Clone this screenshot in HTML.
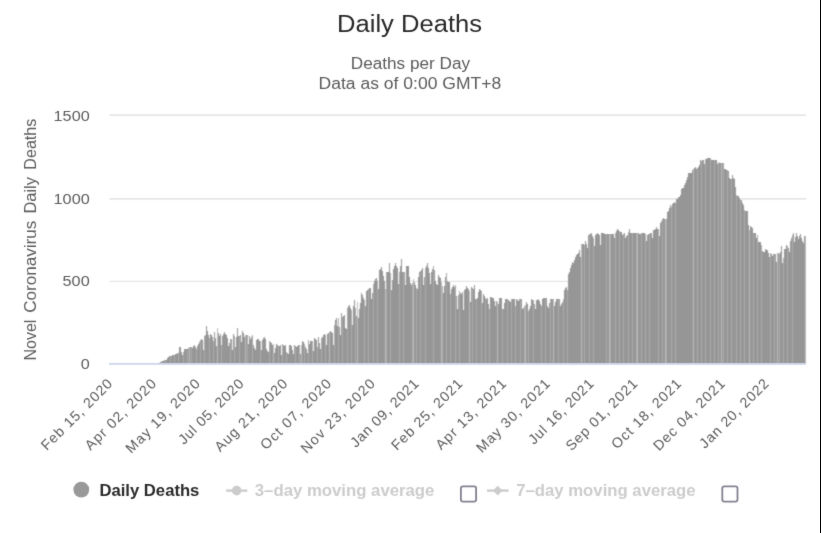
<!DOCTYPE html>
<html><head><meta charset="utf-8"><title>Daily Deaths</title>
<style>
html,body{margin:0;padding:0;background:#fff;}
body{width:821px;height:533px;overflow:hidden;position:relative;font-family:"Liberation Sans",sans-serif;}
svg{position:absolute;left:0;top:0;display:block;}
text{font-family:"Liberation Sans",sans-serif;}
</style></head><body>
<svg width="821" height="533" viewBox="0 0 821 533">
<rect x="0" y="0" width="821" height="533" fill="#ffffff"/>
<rect x="820" y="0" width="1" height="533" fill="#000"/>
<filter id="soft" x="0" y="0" width="819" height="533" filterUnits="userSpaceOnUse" color-interpolation-filters="sRGB"><feConvolveMatrix order="3" kernelMatrix="0.0300 0.0900 0.0300 0.1400 0.4200 0.1400 0.0300 0.0900 0.0300" divisor="1" edgeMode="none"/></filter>
<filter id="mild" x="0" y="0" width="819" height="533" filterUnits="userSpaceOnUse" color-interpolation-filters="sRGB"><feConvolveMatrix order="3" kernelMatrix="0.0100 0.0800 0.0100 0.0800 0.6400 0.0800 0.0100 0.0800 0.0100" divisor="1" edgeMode="none"/></filter>
<g filter="url(#mild)">
<g stroke="#e6e6e6" stroke-width="1.6">
<line x1="109.4" x2="806" y1="115.1" y2="115.1"/>
<line x1="109.4" x2="806" y1="198.9" y2="198.9"/>
<line x1="109.4" x2="806" y1="281.4" y2="281.4" stroke-width="1.3"/>
</g>
</g>
<g shape-rendering="crispEdges" filter="url(#soft)">
<rect x="159" y="362.5" width="1" height="1.1" fill="#969696"/>
<rect x="160" y="361.8" width="1" height="1.8" fill="#969696"/>
<rect x="161" y="361.4" width="1" height="2.2" fill="#bcbcbc"/>
<rect x="162" y="361.1" width="1" height="2.5" fill="#969696"/>
<rect x="163" y="361.0" width="1" height="2.6" fill="#969696"/>
<rect x="164" y="360.2" width="1" height="3.4" fill="#969696"/>
<rect x="165" y="359.8" width="1" height="3.9" fill="#acacac"/>
<rect x="166" y="359.5" width="1" height="4.1" fill="#969696"/>
<rect x="167" y="358.2" width="1" height="5.4" fill="#969696"/>
<rect x="168" y="357.4" width="1" height="6.2" fill="#969696"/>
<rect x="169" y="356.4" width="1" height="7.2" fill="#969696"/>
<rect x="170" y="356.1" width="1" height="7.5" fill="#acacac"/>
<rect x="171" y="355.6" width="1" height="8.0" fill="#969696"/>
<rect x="172" y="355.2" width="1" height="8.4" fill="#969696"/>
<rect x="173" y="355.0" width="1" height="8.6" fill="#969696"/>
<rect x="174" y="354.5" width="1" height="9.1" fill="#acacac"/>
<rect x="175" y="354.1" width="1" height="9.5" fill="#969696"/>
<rect x="176" y="353.8" width="1" height="9.8" fill="#969696"/>
<rect x="177" y="353.3" width="1" height="10.3" fill="#969696"/>
<rect x="178" y="353.0" width="1" height="10.6" fill="#acacac"/>
<rect x="179" y="347.2" width="1" height="16.4" fill="#969696"/>
<rect x="180" y="347.2" width="1" height="16.4" fill="#969696"/>
<rect x="181" y="351.6" width="1" height="12.0" fill="#969696"/>
<rect x="182" y="355.1" width="1" height="8.5" fill="#969696"/>
<rect x="183" y="351.8" width="1" height="11.8" fill="#acacac"/>
<rect x="184" y="348.5" width="1" height="15.1" fill="#969696"/>
<rect x="185" y="348.7" width="1" height="14.9" fill="#969696"/>
<rect x="186" y="348.9" width="1" height="14.7" fill="#969696"/>
<rect x="187" y="349.0" width="1" height="14.6" fill="#acacac"/>
<rect x="188" y="347.9" width="1" height="15.7" fill="#969696"/>
<rect x="189" y="347.2" width="1" height="16.4" fill="#bcbcbc"/>
<rect x="190" y="347.3" width="1" height="16.3" fill="#969696"/>
<rect x="191" y="347.4" width="1" height="16.2" fill="#acacac"/>
<rect x="192" y="347.5" width="1" height="16.1" fill="#969696"/>
<rect x="193" y="345.9" width="1" height="17.7" fill="#969696"/>
<rect x="194" y="344.6" width="1" height="19.0" fill="#969696"/>
<rect x="195" y="346.5" width="1" height="17.1" fill="#969696"/>
<rect x="196" y="349.2" width="1" height="14.4" fill="#acacac"/>
<rect x="197" y="345.9" width="1" height="17.7" fill="#969696"/>
<rect x="198" y="344.0" width="1" height="19.6" fill="#969696"/>
<rect x="199" y="341.7" width="1" height="21.9" fill="#969696"/>
<rect x="200" y="340.2" width="1" height="23.4" fill="#acacac"/>
<rect x="201" y="339.1" width="1" height="24.5" fill="#969696"/>
<rect x="202" y="340.0" width="1" height="23.6" fill="#969696"/>
<rect x="203" y="349.9" width="1" height="13.7" fill="#969696"/>
<rect x="204" y="336.0" width="1" height="27.6" fill="#acacac"/>
<rect x="205" y="335.1" width="1" height="28.5" fill="#969696"/>
<rect x="206" y="326.2" width="1" height="37.4" fill="#969696"/>
<rect x="207" y="331.0" width="1" height="32.6" fill="#969696"/>
<rect x="208" y="335.0" width="1" height="28.6" fill="#969696"/>
<rect x="209" y="338.0" width="1" height="25.6" fill="#acacac"/>
<rect x="210" y="334.1" width="1" height="29.5" fill="#969696"/>
<rect x="211" y="335.3" width="1" height="28.3" fill="#969696"/>
<rect x="212" y="337.0" width="1" height="26.6" fill="#969696"/>
<rect x="213" y="341.0" width="1" height="22.6" fill="#acacac"/>
<rect x="214" y="332.1" width="1" height="31.5" fill="#969696"/>
<rect x="215" y="338.2" width="1" height="25.4" fill="#969696"/>
<rect x="216" y="346.0" width="1" height="17.6" fill="#969696"/>
<rect x="217" y="328.2" width="1" height="35.4" fill="#bcbcbc"/>
<rect x="218" y="333.0" width="1" height="30.6" fill="#969696"/>
<rect x="219" y="336.0" width="1" height="27.6" fill="#969696"/>
<rect x="220" y="334.1" width="1" height="29.5" fill="#969696"/>
<rect x="221" y="345.3" width="1" height="18.3" fill="#acacac"/>
<rect x="222" y="336.0" width="1" height="27.6" fill="#969696"/>
<rect x="223" y="334.1" width="1" height="29.6" fill="#969696"/>
<rect x="224" y="332.1" width="1" height="31.5" fill="#969696"/>
<rect x="225" y="334.0" width="1" height="29.6" fill="#969696"/>
<rect x="226" y="334.7" width="1" height="28.9" fill="#969696"/>
<rect x="227" y="338.3" width="1" height="25.3" fill="#969696"/>
<rect x="228" y="346.0" width="1" height="17.6" fill="#969696"/>
<rect x="229" y="342.6" width="1" height="21.0" fill="#969696"/>
<rect x="230" y="339.3" width="1" height="24.3" fill="#acacac"/>
<rect x="231" y="339.0" width="1" height="24.6" fill="#969696"/>
<rect x="232" y="349.9" width="1" height="13.7" fill="#969696"/>
<rect x="233" y="334.1" width="1" height="29.5" fill="#969696"/>
<rect x="234" y="336.0" width="1" height="27.6" fill="#acacac"/>
<rect x="235" y="346.6" width="1" height="17.0" fill="#969696"/>
<rect x="236" y="337.0" width="1" height="26.6" fill="#969696"/>
<rect x="237" y="328.2" width="1" height="35.4" fill="#969696"/>
<rect x="238" y="336.0" width="1" height="27.6" fill="#969696"/>
<rect x="239" y="335.6" width="1" height="27.9" fill="#acacac"/>
<rect x="240" y="335.4" width="1" height="28.2" fill="#969696"/>
<rect x="241" y="342.0" width="1" height="21.6" fill="#969696"/>
<rect x="242" y="331.2" width="1" height="32.4" fill="#969696"/>
<rect x="243" y="333.4" width="1" height="30.2" fill="#969696"/>
<rect x="244" y="337.4" width="1" height="26.2" fill="#969696"/>
<rect x="245" y="335.1" width="1" height="28.5" fill="#bcbcbc"/>
<rect x="246" y="334.7" width="1" height="28.9" fill="#969696"/>
<rect x="247" y="334.6" width="1" height="29.0" fill="#acacac"/>
<rect x="248" y="343.5" width="1" height="20.1" fill="#969696"/>
<rect x="249" y="335.7" width="1" height="27.9" fill="#969696"/>
<rect x="250" y="339.3" width="1" height="24.3" fill="#969696"/>
<rect x="251" y="337.2" width="1" height="26.4" fill="#969696"/>
<rect x="252" y="334.6" width="1" height="29.0" fill="#acacac"/>
<rect x="253" y="344.6" width="1" height="19.0" fill="#969696"/>
<rect x="254" y="348.2" width="1" height="15.4" fill="#969696"/>
<rect x="255" y="349.9" width="1" height="13.7" fill="#969696"/>
<rect x="256" y="339.9" width="1" height="23.7" fill="#969696"/>
<rect x="257" y="338.6" width="1" height="25.0" fill="#969696"/>
<rect x="258" y="339.4" width="1" height="24.2" fill="#969696"/>
<rect x="259" y="340.6" width="1" height="23.0" fill="#969696"/>
<rect x="260" y="341.4" width="1" height="22.2" fill="#acacac"/>
<rect x="261" y="350.4" width="1" height="13.2" fill="#969696"/>
<rect x="262" y="339.9" width="1" height="23.7" fill="#969696"/>
<rect x="263" y="338.3" width="1" height="25.3" fill="#969696"/>
<rect x="264" y="337.2" width="1" height="26.4" fill="#969696"/>
<rect x="265" y="338.8" width="1" height="24.8" fill="#969696"/>
<rect x="266" y="348.8" width="1" height="14.8" fill="#969696"/>
<rect x="267" y="350.5" width="1" height="13.1" fill="#969696"/>
<rect x="268" y="352.0" width="1" height="11.6" fill="#969696"/>
<rect x="269" y="340.9" width="1" height="22.7" fill="#acacac"/>
<rect x="270" y="341.8" width="1" height="21.8" fill="#969696"/>
<rect x="271" y="342.5" width="1" height="21.1" fill="#969696"/>
<rect x="272" y="345.1" width="1" height="18.5" fill="#969696"/>
<rect x="273" y="343.5" width="1" height="20.1" fill="#bcbcbc"/>
<rect x="274" y="352.5" width="1" height="11.1" fill="#969696"/>
<rect x="275" y="348.0" width="1" height="15.6" fill="#969696"/>
<rect x="276" y="343.5" width="1" height="20.1" fill="#969696"/>
<rect x="277" y="345.0" width="1" height="18.6" fill="#969696"/>
<rect x="278" y="346.2" width="1" height="17.4" fill="#acacac"/>
<rect x="279" y="345.5" width="1" height="18.1" fill="#969696"/>
<rect x="280" y="345.1" width="1" height="18.5" fill="#969696"/>
<rect x="281" y="355.1" width="1" height="8.5" fill="#969696"/>
<rect x="282" y="343.5" width="1" height="20.1" fill="#acacac"/>
<rect x="283" y="344.9" width="1" height="18.8" fill="#969696"/>
<rect x="284" y="346.2" width="1" height="17.4" fill="#969696"/>
<rect x="285" y="344.6" width="1" height="19.0" fill="#969696"/>
<rect x="286" y="352.0" width="1" height="11.6" fill="#acacac"/>
<rect x="287" y="353.3" width="1" height="10.3" fill="#969696"/>
<rect x="288" y="354.1" width="1" height="9.5" fill="#969696"/>
<rect x="289" y="344.9" width="1" height="18.7" fill="#969696"/>
<rect x="290" y="345.2" width="1" height="18.4" fill="#969696"/>
<rect x="291" y="345.6" width="1" height="18.0" fill="#969696"/>
<rect x="292" y="349.9" width="1" height="13.7" fill="#969696"/>
<rect x="293" y="354.1" width="1" height="9.5" fill="#969696"/>
<rect x="294" y="344.9" width="1" height="18.7" fill="#969696"/>
<rect x="295" y="345.8" width="1" height="17.8" fill="#acacac"/>
<rect x="296" y="346.7" width="1" height="16.9" fill="#969696"/>
<rect x="297" y="346.0" width="1" height="17.6" fill="#969696"/>
<rect x="298" y="345.4" width="1" height="18.2" fill="#969696"/>
<rect x="299" y="344.9" width="1" height="18.7" fill="#acacac"/>
<rect x="300" y="354.1" width="1" height="9.5" fill="#969696"/>
<rect x="301" y="345.1" width="1" height="18.5" fill="#bcbcbc"/>
<rect x="302" y="340.9" width="1" height="22.7" fill="#969696"/>
<rect x="303" y="342.0" width="1" height="21.6" fill="#969696"/>
<rect x="304" y="344.1" width="1" height="19.5" fill="#acacac"/>
<rect x="305" y="346.7" width="1" height="16.9" fill="#969696"/>
<rect x="306" y="348.8" width="1" height="14.8" fill="#969696"/>
<rect x="307" y="352.5" width="1" height="11.1" fill="#969696"/>
<rect x="308" y="339.9" width="1" height="23.7" fill="#acacac"/>
<rect x="309" y="343.5" width="1" height="20.1" fill="#969696"/>
<rect x="310" y="340.9" width="1" height="22.7" fill="#969696"/>
<rect x="311" y="341.1" width="1" height="22.5" fill="#969696"/>
<rect x="312" y="341.4" width="1" height="22.2" fill="#acacac"/>
<rect x="313" y="351.4" width="1" height="12.2" fill="#969696"/>
<rect x="314" y="338.3" width="1" height="25.3" fill="#969696"/>
<rect x="315" y="339.1" width="1" height="24.5" fill="#969696"/>
<rect x="316" y="339.9" width="1" height="23.7" fill="#969696"/>
<rect x="317" y="347.2" width="1" height="16.4" fill="#acacac"/>
<rect x="318" y="337.2" width="1" height="26.4" fill="#969696"/>
<rect x="319" y="342.6" width="1" height="21.0" fill="#969696"/>
<rect x="320" y="348.8" width="1" height="14.8" fill="#969696"/>
<rect x="321" y="338.3" width="1" height="25.3" fill="#acacac"/>
<rect x="322" y="336.6" width="1" height="27.0" fill="#969696"/>
<rect x="323" y="335.1" width="1" height="28.5" fill="#969696"/>
<rect x="324" y="333.9" width="1" height="29.7" fill="#969696"/>
<rect x="325" y="335.0" width="1" height="28.6" fill="#acacac"/>
<rect x="326" y="344.7" width="1" height="18.9" fill="#969696"/>
<rect x="327" y="334.4" width="1" height="29.2" fill="#969696"/>
<rect x="328" y="333.4" width="1" height="30.2" fill="#969696"/>
<rect x="329" y="332.1" width="1" height="31.5" fill="#bcbcbc"/>
<rect x="330" y="331.1" width="1" height="32.5" fill="#969696"/>
<rect x="331" y="332.4" width="1" height="31.2" fill="#969696"/>
<rect x="332" y="333.3" width="1" height="30.3" fill="#969696"/>
<rect x="333" y="344.7" width="1" height="18.9" fill="#969696"/>
<rect x="334" y="324.6" width="1" height="39.0" fill="#acacac"/>
<rect x="335" y="320.0" width="1" height="43.6" fill="#969696"/>
<rect x="336" y="317.9" width="1" height="45.7" fill="#969696"/>
<rect x="337" y="326.1" width="1" height="37.5" fill="#969696"/>
<rect x="338" y="317.9" width="1" height="45.7" fill="#acacac"/>
<rect x="339" y="327.1" width="1" height="36.5" fill="#969696"/>
<rect x="340" y="334.9" width="1" height="28.7" fill="#969696"/>
<rect x="341" y="312.5" width="1" height="51.1" fill="#969696"/>
<rect x="342" y="317.3" width="1" height="46.3" fill="#acacac"/>
<rect x="343" y="316.3" width="1" height="47.3" fill="#969696"/>
<rect x="344" y="315.3" width="1" height="48.3" fill="#969696"/>
<rect x="345" y="327.7" width="1" height="35.9" fill="#969696"/>
<rect x="346" y="329.2" width="1" height="34.4" fill="#969696"/>
<rect x="347" y="307.5" width="1" height="56.1" fill="#acacac"/>
<rect x="348" y="306.2" width="1" height="57.4" fill="#969696"/>
<rect x="349" y="304.7" width="1" height="58.9" fill="#969696"/>
<rect x="350" y="308.1" width="1" height="55.5" fill="#969696"/>
<rect x="351" y="309.6" width="1" height="54.0" fill="#acacac"/>
<rect x="352" y="324.6" width="1" height="39.0" fill="#969696"/>
<rect x="353" y="306.0" width="1" height="57.6" fill="#969696"/>
<rect x="354" y="300.3" width="1" height="63.3" fill="#969696"/>
<rect x="355" y="308.3" width="1" height="55.3" fill="#acacac"/>
<rect x="356" y="316.3" width="1" height="47.3" fill="#969696"/>
<rect x="357" y="302.2" width="1" height="61.4" fill="#bcbcbc"/>
<rect x="358" y="318.4" width="1" height="45.2" fill="#969696"/>
<rect x="359" y="309.2" width="1" height="54.4" fill="#969696"/>
<rect x="360" y="303.4" width="1" height="60.2" fill="#969696"/>
<rect x="361" y="292.6" width="1" height="71.0" fill="#969696"/>
<rect x="362" y="294.8" width="1" height="68.8" fill="#969696"/>
<rect x="363" y="298.1" width="1" height="65.5" fill="#969696"/>
<rect x="364" y="300.3" width="1" height="63.3" fill="#acacac"/>
<rect x="365" y="306.0" width="1" height="57.6" fill="#969696"/>
<rect x="366" y="291.3" width="1" height="72.3" fill="#969696"/>
<rect x="367" y="290.3" width="1" height="73.3" fill="#969696"/>
<rect x="368" y="288.7" width="1" height="74.9" fill="#acacac"/>
<rect x="369" y="288.3" width="1" height="75.3" fill="#969696"/>
<rect x="370" y="287.7" width="1" height="75.9" fill="#969696"/>
<rect x="371" y="298.5" width="1" height="65.1" fill="#969696"/>
<rect x="372" y="292.5" width="1" height="71.1" fill="#969696"/>
<rect x="373" y="283.5" width="1" height="80.1" fill="#acacac"/>
<rect x="374" y="281.2" width="1" height="82.4" fill="#969696"/>
<rect x="375" y="279.1" width="1" height="84.5" fill="#969696"/>
<rect x="376" y="278.1" width="1" height="85.5" fill="#969696"/>
<rect x="377" y="281.0" width="1" height="82.6" fill="#acacac"/>
<rect x="378" y="289.2" width="1" height="74.4" fill="#969696"/>
<rect x="379" y="270.1" width="1" height="93.5" fill="#969696"/>
<rect x="380" y="268.7" width="1" height="94.9" fill="#969696"/>
<rect x="381" y="267.3" width="1" height="96.3" fill="#969696"/>
<rect x="382" y="270.6" width="1" height="93.0" fill="#969696"/>
<rect x="383" y="275.8" width="1" height="87.8" fill="#969696"/>
<rect x="384" y="281.0" width="1" height="82.6" fill="#969696"/>
<rect x="385" y="288.7" width="1" height="74.9" fill="#bcbcbc"/>
<rect x="386" y="271.5" width="1" height="92.1" fill="#acacac"/>
<rect x="387" y="271.5" width="1" height="92.1" fill="#969696"/>
<rect x="388" y="271.5" width="1" height="92.1" fill="#969696"/>
<rect x="389" y="263.4" width="1" height="100.2" fill="#969696"/>
<rect x="390" y="273.2" width="1" height="90.4" fill="#acacac"/>
<rect x="391" y="290.2" width="1" height="73.4" fill="#969696"/>
<rect x="392" y="279.6" width="1" height="83.9" fill="#969696"/>
<rect x="393" y="269.1" width="1" height="94.5" fill="#969696"/>
<rect x="394" y="266.3" width="1" height="97.3" fill="#969696"/>
<rect x="395" y="263.4" width="1" height="100.2" fill="#969696"/>
<rect x="396" y="265.6" width="1" height="98.0" fill="#969696"/>
<rect x="397" y="268.1" width="1" height="95.5" fill="#969696"/>
<rect x="398" y="283.5" width="1" height="80.1" fill="#969696"/>
<rect x="399" y="271.7" width="1" height="91.9" fill="#acacac"/>
<rect x="400" y="265.5" width="1" height="98.1" fill="#969696"/>
<rect x="401" y="259.3" width="1" height="104.3" fill="#969696"/>
<rect x="402" y="271.5" width="1" height="92.1" fill="#969696"/>
<rect x="403" y="271.5" width="1" height="92.1" fill="#acacac"/>
<rect x="404" y="271.5" width="1" height="92.1" fill="#969696"/>
<rect x="405" y="285.1" width="1" height="78.5" fill="#969696"/>
<rect x="406" y="266.3" width="1" height="97.3" fill="#969696"/>
<rect x="407" y="266.3" width="1" height="97.3" fill="#969696"/>
<rect x="408" y="266.3" width="1" height="97.3" fill="#969696"/>
<rect x="409" y="277.0" width="1" height="86.6" fill="#969696"/>
<rect x="410" y="282.5" width="1" height="81.1" fill="#969696"/>
<rect x="411" y="285.1" width="1" height="78.5" fill="#969696"/>
<rect x="412" y="282.8" width="1" height="80.8" fill="#acacac"/>
<rect x="413" y="279.4" width="1" height="84.2" fill="#bcbcbc"/>
<rect x="414" y="281.5" width="1" height="82.1" fill="#969696"/>
<rect x="415" y="284.8" width="1" height="78.8" fill="#969696"/>
<rect x="416" y="287.7" width="1" height="75.9" fill="#acacac"/>
<rect x="417" y="289.2" width="1" height="74.4" fill="#969696"/>
<rect x="418" y="277.0" width="1" height="86.6" fill="#969696"/>
<rect x="419" y="271.5" width="1" height="92.1" fill="#969696"/>
<rect x="420" y="271.1" width="1" height="92.5" fill="#acacac"/>
<rect x="421" y="270.4" width="1" height="93.2" fill="#969696"/>
<rect x="422" y="267.5" width="1" height="96.1" fill="#969696"/>
<rect x="423" y="285.1" width="1" height="78.5" fill="#969696"/>
<rect x="424" y="276.6" width="1" height="87.0" fill="#969696"/>
<rect x="425" y="268.1" width="1" height="95.5" fill="#acacac"/>
<rect x="426" y="266.3" width="1" height="97.3" fill="#969696"/>
<rect x="427" y="263.4" width="1" height="100.2" fill="#969696"/>
<rect x="428" y="267.6" width="1" height="96.0" fill="#969696"/>
<rect x="429" y="273.2" width="1" height="90.4" fill="#969696"/>
<rect x="430" y="283.5" width="1" height="80.1" fill="#969696"/>
<rect x="431" y="271.5" width="1" height="92.1" fill="#969696"/>
<rect x="432" y="268.9" width="1" height="94.7" fill="#969696"/>
<rect x="433" y="266.3" width="1" height="97.3" fill="#acacac"/>
<rect x="434" y="270.4" width="1" height="93.2" fill="#969696"/>
<rect x="435" y="280.6" width="1" height="83.0" fill="#969696"/>
<rect x="436" y="283.5" width="1" height="80.1" fill="#969696"/>
<rect x="437" y="285.2" width="1" height="78.4" fill="#969696"/>
<rect x="438" y="275.4" width="1" height="88.2" fill="#969696"/>
<rect x="439" y="277.0" width="1" height="86.6" fill="#969696"/>
<rect x="440" y="278.3" width="1" height="85.3" fill="#969696"/>
<rect x="441" y="282.1" width="1" height="81.5" fill="#bcbcbc"/>
<rect x="442" y="286.3" width="1" height="77.3" fill="#acacac"/>
<rect x="443" y="293.0" width="1" height="70.6" fill="#969696"/>
<rect x="444" y="285.5" width="1" height="78.1" fill="#969696"/>
<rect x="445" y="277.0" width="1" height="86.6" fill="#969696"/>
<rect x="446" y="272.8" width="1" height="90.8" fill="#acacac"/>
<rect x="447" y="281.1" width="1" height="82.5" fill="#969696"/>
<rect x="448" y="281.5" width="1" height="82.1" fill="#969696"/>
<rect x="449" y="282.1" width="1" height="81.5" fill="#969696"/>
<rect x="450" y="294.0" width="1" height="69.6" fill="#acacac"/>
<rect x="451" y="288.8" width="1" height="74.8" fill="#969696"/>
<rect x="452" y="286.8" width="1" height="76.8" fill="#969696"/>
<rect x="453" y="284.7" width="1" height="78.9" fill="#969696"/>
<rect x="454" y="287.3" width="1" height="76.3" fill="#969696"/>
<rect x="455" y="284.9" width="1" height="78.7" fill="#acacac"/>
<rect x="456" y="296.0" width="1" height="67.6" fill="#969696"/>
<rect x="457" y="309.0" width="1" height="54.6" fill="#969696"/>
<rect x="458" y="295.0" width="1" height="68.6" fill="#969696"/>
<rect x="459" y="291.4" width="1" height="72.2" fill="#acacac"/>
<rect x="460" y="292.6" width="1" height="71.0" fill="#969696"/>
<rect x="461" y="294.0" width="1" height="69.6" fill="#969696"/>
<rect x="462" y="292.4" width="1" height="71.2" fill="#969696"/>
<rect x="463" y="310.0" width="1" height="53.6" fill="#969696"/>
<rect x="464" y="290.1" width="1" height="73.5" fill="#969696"/>
<rect x="465" y="288.7" width="1" height="74.9" fill="#969696"/>
<rect x="466" y="286.3" width="1" height="77.3" fill="#969696"/>
<rect x="467" y="288.1" width="1" height="75.5" fill="#969696"/>
<rect x="468" y="289.0" width="1" height="74.6" fill="#969696"/>
<rect x="469" y="291.4" width="1" height="72.2" fill="#bcbcbc"/>
<rect x="470" y="302.2" width="1" height="61.4" fill="#969696"/>
<rect x="471" y="287.3" width="1" height="76.3" fill="#969696"/>
<rect x="472" y="288.0" width="1" height="75.6" fill="#acacac"/>
<rect x="473" y="288.6" width="1" height="75.0" fill="#969696"/>
<rect x="474" y="284.7" width="1" height="78.9" fill="#969696"/>
<rect x="475" y="299.2" width="1" height="64.4" fill="#969696"/>
<rect x="476" y="298.6" width="1" height="65.0" fill="#acacac"/>
<rect x="477" y="298.1" width="1" height="65.5" fill="#969696"/>
<rect x="478" y="291.9" width="1" height="71.7" fill="#969696"/>
<rect x="479" y="288.8" width="1" height="74.8" fill="#969696"/>
<rect x="480" y="290.3" width="1" height="73.3" fill="#969696"/>
<rect x="481" y="291.4" width="1" height="72.2" fill="#acacac"/>
<rect x="482" y="303.3" width="1" height="60.3" fill="#969696"/>
<rect x="483" y="294.2" width="1" height="69.4" fill="#969696"/>
<rect x="484" y="296.4" width="1" height="67.2" fill="#969696"/>
<rect x="485" y="298.1" width="1" height="65.5" fill="#acacac"/>
<rect x="486" y="299.4" width="1" height="64.2" fill="#969696"/>
<rect x="487" y="298.1" width="1" height="65.5" fill="#969696"/>
<rect x="488" y="304.2" width="1" height="59.4" fill="#969696"/>
<rect x="489" y="309.0" width="1" height="54.6" fill="#acacac"/>
<rect x="490" y="296.9" width="1" height="66.7" fill="#969696"/>
<rect x="491" y="297.3" width="1" height="66.3" fill="#969696"/>
<rect x="492" y="297.8" width="1" height="65.8" fill="#969696"/>
<rect x="493" y="298.1" width="1" height="65.5" fill="#969696"/>
<rect x="494" y="300.7" width="1" height="62.9" fill="#969696"/>
<rect x="495" y="306.4" width="1" height="57.2" fill="#969696"/>
<rect x="496" y="300.7" width="1" height="62.9" fill="#969696"/>
<rect x="497" y="302.1" width="1" height="61.5" fill="#bcbcbc"/>
<rect x="498" y="303.8" width="1" height="59.8" fill="#969696"/>
<rect x="499" y="298.1" width="1" height="65.5" fill="#969696"/>
<rect x="500" y="298.1" width="1" height="65.5" fill="#969696"/>
<rect x="501" y="298.1" width="1" height="65.5" fill="#969696"/>
<rect x="502" y="309.0" width="1" height="54.6" fill="#acacac"/>
<rect x="503" y="309.0" width="1" height="54.6" fill="#969696"/>
<rect x="504" y="302.7" width="1" height="60.9" fill="#969696"/>
<rect x="505" y="299.2" width="1" height="64.4" fill="#969696"/>
<rect x="506" y="299.2" width="1" height="64.4" fill="#969696"/>
<rect x="507" y="299.2" width="1" height="64.4" fill="#acacac"/>
<rect x="508" y="299.9" width="1" height="63.7" fill="#969696"/>
<rect x="509" y="301.0" width="1" height="62.6" fill="#969696"/>
<rect x="510" y="302.2" width="1" height="61.4" fill="#969696"/>
<rect x="511" y="299.4" width="1" height="64.2" fill="#acacac"/>
<rect x="512" y="299.4" width="1" height="64.2" fill="#969696"/>
<rect x="513" y="299.4" width="1" height="64.2" fill="#969696"/>
<rect x="514" y="299.4" width="1" height="64.2" fill="#969696"/>
<rect x="515" y="306.1" width="1" height="57.5" fill="#acacac"/>
<rect x="516" y="299.4" width="1" height="64.2" fill="#969696"/>
<rect x="517" y="300.2" width="1" height="63.4" fill="#969696"/>
<rect x="518" y="301.0" width="1" height="62.6" fill="#969696"/>
<rect x="519" y="299.4" width="1" height="64.2" fill="#969696"/>
<rect x="520" y="299.4" width="1" height="64.2" fill="#acacac"/>
<rect x="521" y="299.4" width="1" height="64.2" fill="#969696"/>
<rect x="522" y="309.0" width="1" height="54.6" fill="#969696"/>
<rect x="523" y="308.2" width="1" height="55.4" fill="#969696"/>
<rect x="524" y="306.2" width="1" height="57.4" fill="#acacac"/>
<rect x="525" y="304.6" width="1" height="59.0" fill="#bcbcbc"/>
<rect x="526" y="302.2" width="1" height="61.4" fill="#969696"/>
<rect x="527" y="304.1" width="1" height="59.5" fill="#969696"/>
<rect x="528" y="310.8" width="1" height="52.8" fill="#acacac"/>
<rect x="529" y="308.8" width="1" height="54.8" fill="#969696"/>
<rect x="530" y="306.1" width="1" height="57.5" fill="#969696"/>
<rect x="531" y="299.4" width="1" height="64.2" fill="#969696"/>
<rect x="532" y="299.6" width="1" height="64.0" fill="#969696"/>
<rect x="533" y="299.9" width="1" height="63.7" fill="#acacac"/>
<rect x="534" y="304.3" width="1" height="59.3" fill="#969696"/>
<rect x="535" y="308.7" width="1" height="54.9" fill="#969696"/>
<rect x="536" y="300.4" width="1" height="63.2" fill="#969696"/>
<rect x="537" y="299.8" width="1" height="63.8" fill="#969696"/>
<rect x="538" y="299.4" width="1" height="64.2" fill="#969696"/>
<rect x="539" y="301.0" width="1" height="62.6" fill="#969696"/>
<rect x="540" y="304.4" width="1" height="59.2" fill="#969696"/>
<rect x="541" y="305.9" width="1" height="57.7" fill="#acacac"/>
<rect x="542" y="298.9" width="1" height="64.7" fill="#969696"/>
<rect x="543" y="298.4" width="1" height="65.2" fill="#969696"/>
<rect x="544" y="298.1" width="1" height="65.5" fill="#969696"/>
<rect x="545" y="298.1" width="1" height="65.5" fill="#acacac"/>
<rect x="546" y="298.1" width="1" height="65.5" fill="#969696"/>
<rect x="547" y="306.1" width="1" height="57.5" fill="#969696"/>
<rect x="548" y="308.2" width="1" height="55.4" fill="#969696"/>
<rect x="549" y="302.8" width="1" height="60.8" fill="#969696"/>
<rect x="550" y="299.4" width="1" height="64.2" fill="#acacac"/>
<rect x="551" y="299.4" width="1" height="64.2" fill="#969696"/>
<rect x="552" y="299.4" width="1" height="64.2" fill="#969696"/>
<rect x="553" y="299.4" width="1" height="64.2" fill="#bcbcbc"/>
<rect x="554" y="306.1" width="1" height="57.5" fill="#969696"/>
<rect x="555" y="302.1" width="1" height="61.5" fill="#969696"/>
<rect x="556" y="299.4" width="1" height="64.2" fill="#969696"/>
<rect x="557" y="299.4" width="1" height="64.2" fill="#969696"/>
<rect x="558" y="299.4" width="1" height="64.2" fill="#acacac"/>
<rect x="559" y="299.4" width="1" height="64.2" fill="#969696"/>
<rect x="560" y="305.6" width="1" height="58.0" fill="#969696"/>
<rect x="561" y="303.8" width="1" height="59.8" fill="#969696"/>
<rect x="562" y="302.2" width="1" height="61.4" fill="#969696"/>
<rect x="563" y="299.4" width="1" height="64.2" fill="#acacac"/>
<rect x="564" y="290.1" width="1" height="73.5" fill="#969696"/>
<rect x="565" y="288.4" width="1" height="75.2" fill="#969696"/>
<rect x="566" y="287.3" width="1" height="76.3" fill="#969696"/>
<rect x="567" y="290.1" width="1" height="73.5" fill="#acacac"/>
<rect x="568" y="274.1" width="1" height="89.5" fill="#969696"/>
<rect x="569" y="271.5" width="1" height="92.1" fill="#969696"/>
<rect x="570" y="268.4" width="1" height="95.2" fill="#969696"/>
<rect x="571" y="265.3" width="1" height="98.3" fill="#969696"/>
<rect x="572" y="262.2" width="1" height="101.4" fill="#969696"/>
<rect x="573" y="263.3" width="1" height="100.3" fill="#969696"/>
<rect x="574" y="260.4" width="1" height="103.2" fill="#969696"/>
<rect x="575" y="257.1" width="1" height="106.5" fill="#969696"/>
<rect x="576" y="254.9" width="1" height="108.7" fill="#969696"/>
<rect x="577" y="254.0" width="1" height="109.6" fill="#969696"/>
<rect x="578" y="253.0" width="1" height="110.6" fill="#969696"/>
<rect x="579" y="250.1" width="1" height="113.5" fill="#969696"/>
<rect x="580" y="257.1" width="1" height="106.5" fill="#969696"/>
<rect x="581" y="243.7" width="1" height="119.9" fill="#bcbcbc"/>
<rect x="582" y="243.7" width="1" height="119.9" fill="#969696"/>
<rect x="583" y="243.7" width="1" height="119.9" fill="#969696"/>
<rect x="584" y="245.2" width="1" height="118.4" fill="#acacac"/>
<rect x="585" y="240.6" width="1" height="123.0" fill="#969696"/>
<rect x="586" y="244.2" width="1" height="119.4" fill="#969696"/>
<rect x="587" y="247.8" width="1" height="115.8" fill="#969696"/>
<rect x="588" y="235.4" width="1" height="128.2" fill="#969696"/>
<rect x="589" y="234.4" width="1" height="129.2" fill="#acacac"/>
<rect x="590" y="233.9" width="1" height="129.7" fill="#969696"/>
<rect x="591" y="233.1" width="1" height="130.5" fill="#969696"/>
<rect x="592" y="235.9" width="1" height="127.7" fill="#969696"/>
<rect x="593" y="237.5" width="1" height="126.1" fill="#acacac"/>
<rect x="594" y="245.7" width="1" height="117.9" fill="#969696"/>
<rect x="595" y="234.9" width="1" height="128.7" fill="#969696"/>
<rect x="596" y="233.9" width="1" height="129.7" fill="#969696"/>
<rect x="597" y="232.8" width="1" height="130.8" fill="#969696"/>
<rect x="598" y="234.3" width="1" height="129.3" fill="#969696"/>
<rect x="599" y="235.4" width="1" height="128.2" fill="#969696"/>
<rect x="600" y="244.9" width="1" height="118.7" fill="#969696"/>
<rect x="601" y="232.8" width="1" height="130.8" fill="#969696"/>
<rect x="602" y="232.8" width="1" height="130.8" fill="#969696"/>
<rect x="603" y="232.8" width="1" height="130.8" fill="#969696"/>
<rect x="604" y="234.2" width="1" height="129.4" fill="#969696"/>
<rect x="605" y="234.2" width="1" height="129.4" fill="#969696"/>
<rect x="606" y="234.2" width="1" height="129.4" fill="#acacac"/>
<rect x="607" y="234.2" width="1" height="129.4" fill="#969696"/>
<rect x="608" y="234.2" width="1" height="129.4" fill="#969696"/>
<rect x="609" y="234.2" width="1" height="129.4" fill="#bcbcbc"/>
<rect x="610" y="234.2" width="1" height="129.4" fill="#acacac"/>
<rect x="611" y="234.2" width="1" height="129.4" fill="#969696"/>
<rect x="612" y="234.2" width="1" height="129.4" fill="#969696"/>
<rect x="613" y="234.2" width="1" height="129.4" fill="#969696"/>
<rect x="614" y="237.5" width="1" height="126.1" fill="#969696"/>
<rect x="615" y="232.8" width="1" height="130.8" fill="#acacac"/>
<rect x="616" y="231.2" width="1" height="132.4" fill="#969696"/>
<rect x="617" y="228.7" width="1" height="134.9" fill="#969696"/>
<rect x="618" y="229.8" width="1" height="133.8" fill="#969696"/>
<rect x="619" y="230.8" width="1" height="132.8" fill="#acacac"/>
<rect x="620" y="231.7" width="1" height="131.9" fill="#969696"/>
<rect x="621" y="232.3" width="1" height="131.3" fill="#969696"/>
<rect x="622" y="234.9" width="1" height="128.7" fill="#969696"/>
<rect x="623" y="234.1" width="1" height="129.5" fill="#acacac"/>
<rect x="624" y="232.8" width="1" height="130.8" fill="#969696"/>
<rect x="625" y="237.5" width="1" height="126.1" fill="#969696"/>
<rect x="626" y="236.2" width="1" height="127.4" fill="#969696"/>
<rect x="627" y="234.9" width="1" height="128.7" fill="#969696"/>
<rect x="628" y="232.3" width="1" height="131.3" fill="#acacac"/>
<rect x="629" y="228.7" width="1" height="134.9" fill="#969696"/>
<rect x="630" y="232.8" width="1" height="130.8" fill="#969696"/>
<rect x="631" y="232.8" width="1" height="130.8" fill="#969696"/>
<rect x="632" y="232.8" width="1" height="130.8" fill="#acacac"/>
<rect x="633" y="232.8" width="1" height="130.8" fill="#969696"/>
<rect x="634" y="232.8" width="1" height="130.8" fill="#969696"/>
<rect x="635" y="232.8" width="1" height="130.8" fill="#969696"/>
<rect x="636" y="232.8" width="1" height="130.8" fill="#acacac"/>
<rect x="637" y="232.8" width="1" height="130.8" fill="#bcbcbc"/>
<rect x="638" y="232.8" width="1" height="130.8" fill="#969696"/>
<rect x="639" y="233.9" width="1" height="129.7" fill="#969696"/>
<rect x="640" y="233.6" width="1" height="130.0" fill="#969696"/>
<rect x="641" y="233.1" width="1" height="130.5" fill="#acacac"/>
<rect x="642" y="232.8" width="1" height="130.8" fill="#969696"/>
<rect x="643" y="232.9" width="1" height="130.7" fill="#969696"/>
<rect x="644" y="233.0" width="1" height="130.6" fill="#969696"/>
<rect x="645" y="233.5" width="1" height="130.1" fill="#acacac"/>
<rect x="646" y="240.7" width="1" height="122.9" fill="#969696"/>
<rect x="647" y="234.5" width="1" height="129.1" fill="#969696"/>
<rect x="648" y="234.2" width="1" height="129.3" fill="#969696"/>
<rect x="649" y="234.0" width="1" height="129.6" fill="#acacac"/>
<rect x="650" y="233.4" width="1" height="130.2" fill="#969696"/>
<rect x="651" y="233.0" width="1" height="130.6" fill="#969696"/>
<rect x="652" y="237.6" width="1" height="126.0" fill="#969696"/>
<rect x="653" y="229.9" width="1" height="133.7" fill="#969696"/>
<rect x="654" y="229.6" width="1" height="134.0" fill="#969696"/>
<rect x="655" y="229.4" width="1" height="134.2" fill="#969696"/>
<rect x="656" y="227.3" width="1" height="136.3" fill="#969696"/>
<rect x="657" y="228.5" width="1" height="135.1" fill="#969696"/>
<rect x="658" y="229.4" width="1" height="134.2" fill="#acacac"/>
<rect x="659" y="235.6" width="1" height="128.0" fill="#969696"/>
<rect x="660" y="223.2" width="1" height="140.4" fill="#969696"/>
<rect x="661" y="220.6" width="1" height="143.0" fill="#969696"/>
<rect x="662" y="219.4" width="1" height="144.2" fill="#acacac"/>
<rect x="663" y="218.0" width="1" height="145.6" fill="#969696"/>
<rect x="664" y="218.5" width="1" height="145.1" fill="#969696"/>
<rect x="665" y="218.8" width="1" height="144.8" fill="#bcbcbc"/>
<rect x="666" y="219.1" width="1" height="144.5" fill="#acacac"/>
<rect x="667" y="211.8" width="1" height="151.8" fill="#969696"/>
<rect x="668" y="211.3" width="1" height="152.3" fill="#969696"/>
<rect x="669" y="208.0" width="1" height="155.6" fill="#969696"/>
<rect x="670" y="205.1" width="1" height="158.5" fill="#969696"/>
<rect x="671" y="206.7" width="1" height="156.9" fill="#acacac"/>
<rect x="672" y="203.6" width="1" height="160.0" fill="#969696"/>
<rect x="673" y="202.9" width="1" height="160.7" fill="#969696"/>
<rect x="674" y="202.0" width="1" height="161.6" fill="#969696"/>
<rect x="675" y="202.5" width="1" height="161.1" fill="#acacac"/>
<rect x="676" y="199.4" width="1" height="164.2" fill="#969696"/>
<rect x="677" y="198.7" width="1" height="164.9" fill="#969696"/>
<rect x="678" y="197.4" width="1" height="166.2" fill="#969696"/>
<rect x="679" y="196.5" width="1" height="167.1" fill="#969696"/>
<rect x="680" y="195.3" width="1" height="168.3" fill="#969696"/>
<rect x="681" y="189.2" width="1" height="174.4" fill="#969696"/>
<rect x="682" y="188.4" width="1" height="175.2" fill="#969696"/>
<rect x="683" y="187.7" width="1" height="175.9" fill="#969696"/>
<rect x="684" y="184.8" width="1" height="178.8" fill="#969696"/>
<rect x="685" y="182.5" width="1" height="181.1" fill="#969696"/>
<rect x="686" y="179.9" width="1" height="183.7" fill="#969696"/>
<rect x="687" y="176.6" width="1" height="187.0" fill="#969696"/>
<rect x="688" y="173.2" width="1" height="190.4" fill="#969696"/>
<rect x="689" y="173.1" width="1" height="190.5" fill="#969696"/>
<rect x="690" y="173.0" width="1" height="190.6" fill="#969696"/>
<rect x="691" y="172.9" width="1" height="190.7" fill="#969696"/>
<rect x="692" y="170.4" width="1" height="193.2" fill="#969696"/>
<rect x="693" y="168.6" width="1" height="195.0" fill="#bcbcbc"/>
<rect x="694" y="167.9" width="1" height="195.7" fill="#969696"/>
<rect x="695" y="167.0" width="1" height="196.6" fill="#969696"/>
<rect x="696" y="169.1" width="1" height="194.5" fill="#969696"/>
<rect x="697" y="167.8" width="1" height="195.8" fill="#acacac"/>
<rect x="698" y="167.0" width="1" height="196.6" fill="#969696"/>
<rect x="699" y="165.3" width="1" height="198.3" fill="#969696"/>
<rect x="700" y="159.5" width="1" height="204.1" fill="#969696"/>
<rect x="701" y="160.8" width="1" height="202.8" fill="#acacac"/>
<rect x="702" y="160.1" width="1" height="203.5" fill="#969696"/>
<rect x="703" y="159.5" width="1" height="204.1" fill="#969696"/>
<rect x="704" y="163.9" width="1" height="199.7" fill="#969696"/>
<rect x="705" y="159.3" width="1" height="204.3" fill="#acacac"/>
<rect x="706" y="158.5" width="1" height="205.1" fill="#969696"/>
<rect x="707" y="158.0" width="1" height="205.6" fill="#969696"/>
<rect x="708" y="158.0" width="1" height="205.6" fill="#969696"/>
<rect x="709" y="158.0" width="1" height="205.6" fill="#969696"/>
<rect x="710" y="158.0" width="1" height="205.6" fill="#acacac"/>
<rect x="711" y="159.5" width="1" height="204.1" fill="#969696"/>
<rect x="712" y="159.5" width="1" height="204.1" fill="#969696"/>
<rect x="713" y="159.5" width="1" height="204.1" fill="#969696"/>
<rect x="714" y="159.5" width="1" height="204.1" fill="#acacac"/>
<rect x="715" y="160.3" width="1" height="203.3" fill="#969696"/>
<rect x="716" y="159.5" width="1" height="204.1" fill="#969696"/>
<rect x="717" y="164.4" width="1" height="199.2" fill="#969696"/>
<rect x="718" y="162.2" width="1" height="201.4" fill="#acacac"/>
<rect x="719" y="162.8" width="1" height="200.8" fill="#969696"/>
<rect x="720" y="163.4" width="1" height="200.2" fill="#969696"/>
<rect x="721" y="163.4" width="1" height="200.2" fill="#bcbcbc"/>
<rect x="722" y="163.4" width="1" height="200.2" fill="#969696"/>
<rect x="723" y="163.4" width="1" height="200.2" fill="#acacac"/>
<rect x="724" y="169.1" width="1" height="194.5" fill="#969696"/>
<rect x="725" y="169.3" width="1" height="194.3" fill="#969696"/>
<rect x="726" y="169.5" width="1" height="194.1" fill="#969696"/>
<rect x="727" y="169.6" width="1" height="194.0" fill="#acacac"/>
<rect x="728" y="170.6" width="1" height="193.0" fill="#969696"/>
<rect x="729" y="177.9" width="1" height="185.7" fill="#969696"/>
<rect x="730" y="178.9" width="1" height="184.7" fill="#969696"/>
<rect x="731" y="179.4" width="1" height="184.2" fill="#acacac"/>
<rect x="732" y="175.3" width="1" height="188.3" fill="#969696"/>
<rect x="733" y="178.4" width="1" height="185.2" fill="#969696"/>
<rect x="734" y="178.9" width="1" height="184.7" fill="#969696"/>
<rect x="735" y="186.6" width="1" height="177.0" fill="#969696"/>
<rect x="736" y="195.4" width="1" height="168.2" fill="#acacac"/>
<rect x="737" y="195.7" width="1" height="167.9" fill="#969696"/>
<rect x="738" y="195.9" width="1" height="167.7" fill="#969696"/>
<rect x="739" y="197.5" width="1" height="166.1" fill="#969696"/>
<rect x="740" y="199.5" width="1" height="164.1" fill="#acacac"/>
<rect x="741" y="200.1" width="1" height="163.5" fill="#969696"/>
<rect x="742" y="202.6" width="1" height="161.0" fill="#969696"/>
<rect x="743" y="204.7" width="1" height="158.9" fill="#969696"/>
<rect x="744" y="210.3" width="1" height="153.3" fill="#acacac"/>
<rect x="745" y="210.5" width="1" height="153.1" fill="#969696"/>
<rect x="746" y="210.8" width="1" height="152.8" fill="#969696"/>
<rect x="747" y="211.0" width="1" height="152.6" fill="#969696"/>
<rect x="748" y="224.9" width="1" height="138.7" fill="#969696"/>
<rect x="749" y="230.1" width="1" height="133.5" fill="#bcbcbc"/>
<rect x="750" y="226.0" width="1" height="137.6" fill="#969696"/>
<rect x="751" y="226.9" width="1" height="136.7" fill="#969696"/>
<rect x="752" y="228.0" width="1" height="135.6" fill="#969696"/>
<rect x="753" y="233.2" width="1" height="130.4" fill="#acacac"/>
<rect x="754" y="233.2" width="1" height="130.4" fill="#969696"/>
<rect x="755" y="233.2" width="1" height="130.4" fill="#969696"/>
<rect x="756" y="238.3" width="1" height="125.3" fill="#969696"/>
<rect x="757" y="235.4" width="1" height="128.2" fill="#acacac"/>
<rect x="758" y="242.0" width="1" height="121.6" fill="#969696"/>
<rect x="759" y="242.0" width="1" height="121.6" fill="#969696"/>
<rect x="760" y="242.0" width="1" height="121.6" fill="#969696"/>
<rect x="761" y="245.1" width="1" height="118.5" fill="#acacac"/>
<rect x="762" y="251.2" width="1" height="112.4" fill="#969696"/>
<rect x="763" y="251.5" width="1" height="112.1" fill="#969696"/>
<rect x="764" y="251.6" width="1" height="112.0" fill="#969696"/>
<rect x="765" y="248.8" width="1" height="114.8" fill="#969696"/>
<rect x="766" y="249.6" width="1" height="114.0" fill="#969696"/>
<rect x="767" y="250.3" width="1" height="113.3" fill="#969696"/>
<rect x="768" y="252.8" width="1" height="110.8" fill="#969696"/>
<rect x="769" y="256.6" width="1" height="107.0" fill="#969696"/>
<rect x="770" y="252.8" width="1" height="110.8" fill="#acacac"/>
<rect x="771" y="254.2" width="1" height="109.4" fill="#969696"/>
<rect x="772" y="255.8" width="1" height="107.8" fill="#969696"/>
<rect x="773" y="254.3" width="1" height="109.3" fill="#969696"/>
<rect x="774" y="254.3" width="1" height="109.3" fill="#acacac"/>
<rect x="775" y="254.3" width="1" height="109.3" fill="#969696"/>
<rect x="776" y="262.0" width="1" height="101.6" fill="#969696"/>
<rect x="777" y="252.8" width="1" height="110.8" fill="#bcbcbc"/>
<rect x="778" y="253.4" width="1" height="110.2" fill="#969696"/>
<rect x="779" y="253.9" width="1" height="109.7" fill="#acacac"/>
<rect x="780" y="251.6" width="1" height="112.0" fill="#969696"/>
<rect x="781" y="246.2" width="1" height="117.4" fill="#969696"/>
<rect x="782" y="262.8" width="1" height="100.8" fill="#969696"/>
<rect x="783" y="258.0" width="1" height="105.6" fill="#acacac"/>
<rect x="784" y="249.1" width="1" height="114.5" fill="#969696"/>
<rect x="785" y="248.5" width="1" height="115.1" fill="#969696"/>
<rect x="786" y="244.9" width="1" height="118.7" fill="#969696"/>
<rect x="787" y="246.2" width="1" height="117.4" fill="#acacac"/>
<rect x="788" y="247.8" width="1" height="115.8" fill="#969696"/>
<rect x="789" y="251.6" width="1" height="112.0" fill="#969696"/>
<rect x="790" y="241.2" width="1" height="122.4" fill="#969696"/>
<rect x="791" y="237.9" width="1" height="125.7" fill="#969696"/>
<rect x="792" y="234.7" width="1" height="128.9" fill="#acacac"/>
<rect x="793" y="233.2" width="1" height="130.4" fill="#969696"/>
<rect x="794" y="241.6" width="1" height="122.0" fill="#969696"/>
<rect x="795" y="237.4" width="1" height="126.2" fill="#969696"/>
<rect x="796" y="233.2" width="1" height="130.4" fill="#969696"/>
<rect x="797" y="235.8" width="1" height="127.8" fill="#969696"/>
<rect x="798" y="239.3" width="1" height="124.3" fill="#969696"/>
<rect x="799" y="236.1" width="1" height="127.5" fill="#969696"/>
<rect x="800" y="234.3" width="1" height="129.3" fill="#969696"/>
<rect x="801" y="238.2" width="1" height="125.4" fill="#969696"/>
<rect x="802" y="241.2" width="1" height="122.4" fill="#969696"/>
<rect x="803" y="242.8" width="1" height="120.8" fill="#969696"/>
<rect x="804" y="235.5" width="1" height="128.1" fill="#969696"/>
<rect x="805" y="235.5" width="1" height="128.1" fill="#bcbcbc"/>
</g>
<g filter="url(#mild)">
<line x1="109" x2="806" y1="363.9" y2="363.9" stroke="#ccd6eb" stroke-width="1.6"/>
<text x="337.1" y="31.7" font-size="23" fill="#292929" textLength="144.9" lengthAdjust="spacingAndGlyphs">Daily Deaths</text>
<text x="350.8" y="69" font-size="16" fill="#5c5c5c" textLength="119.3" lengthAdjust="spacingAndGlyphs">Deaths per Day</text>
<text x="318.6" y="88.5" font-size="16" fill="#5c5c5c" textLength="182.6" lengthAdjust="spacingAndGlyphs">Data as of 0:00 GMT+8</text>
<g font-size="15.3" fill="#5c5c5c" text-anchor="end">
<text x="89.7" y="121" textLength="36.1" lengthAdjust="spacingAndGlyphs">1500</text>
<text x="89.7" y="203.8" textLength="36.1" lengthAdjust="spacingAndGlyphs">1000</text>
<text x="89.7" y="286.4" textLength="27.1" lengthAdjust="spacingAndGlyphs">500</text>
<text x="89.7" y="369" textLength="9.0" lengthAdjust="spacingAndGlyphs">0</text>
</g>
<g font-size="16.5" fill="#5c5c5c">
<text transform="translate(36.2,360.6) rotate(-90)" textLength="41" lengthAdjust="spacingAndGlyphs">Novel</text>
<text transform="translate(36.2,312.8) rotate(-90)" textLength="92" lengthAdjust="spacingAndGlyphs">Coronavirus</text>
<text transform="translate(36.2,213.6) rotate(-90)" textLength="36.6" lengthAdjust="spacingAndGlyphs">Daily</text>
<text transform="translate(36.2,169.7) rotate(-90)" textLength="51" lengthAdjust="spacingAndGlyphs">Deaths</text>
</g>
<g font-size="14.2" fill="#5c5c5c">
<text transform="translate(113.20,384.7) rotate(-45)" text-anchor="end" textLength="93.9" lengthAdjust="spacing">Feb 15, 2020</text>
<text transform="translate(156.96,384.7) rotate(-45)" text-anchor="end" textLength="93.9" lengthAdjust="spacing">Apr 02, 2020</text>
<text transform="translate(200.72,384.7) rotate(-45)" text-anchor="end" textLength="98.1" lengthAdjust="spacing">May 19, 2020</text>
<text transform="translate(244.48,384.7) rotate(-45)" text-anchor="end" textLength="85.7" lengthAdjust="spacing">Jul 05, 2020</text>
<text transform="translate(288.24,384.7) rotate(-45)" text-anchor="end" textLength="96.0" lengthAdjust="spacing">Aug 21, 2020</text>
<text transform="translate(332.00,384.7) rotate(-45)" text-anchor="end" textLength="93.2" lengthAdjust="spacing">Oct 07, 2020</text>
<text transform="translate(375.76,384.7) rotate(-45)" text-anchor="end" textLength="98.1" lengthAdjust="spacing">Nov 23, 2020</text>
<text transform="translate(419.52,384.7) rotate(-45)" text-anchor="end" textLength="89.8" lengthAdjust="spacing">Jan 09, 2021</text>
<text transform="translate(463.28,384.7) rotate(-45)" text-anchor="end" textLength="93.9" lengthAdjust="spacing">Feb 25, 2021</text>
<text transform="translate(507.04,384.7) rotate(-45)" text-anchor="end" textLength="93.2" lengthAdjust="spacing">Apr 13, 2021</text>
<text transform="translate(550.80,384.7) rotate(-45)" text-anchor="end" textLength="97.4" lengthAdjust="spacing">May 30, 2021</text>
<text transform="translate(594.56,384.7) rotate(-45)" text-anchor="end" textLength="85.7" lengthAdjust="spacing">Jul 16, 2021</text>
<text transform="translate(638.32,384.7) rotate(-45)" text-anchor="end" textLength="94.6" lengthAdjust="spacing">Sep 01, 2021</text>
<text transform="translate(682.08,384.7) rotate(-45)" text-anchor="end" textLength="91.9" lengthAdjust="spacing">Oct 18, 2021</text>
<text transform="translate(725.84,384.7) rotate(-45)" text-anchor="end" textLength="94.6" lengthAdjust="spacing">Dec 04, 2021</text>
<text transform="translate(769.60,384.7) rotate(-45)" text-anchor="end" textLength="91.2" lengthAdjust="spacing">Jan 20, 2022</text>
</g>
<!-- legend -->
<circle cx="81.3" cy="489.6" r="7.9" fill="#999999"/>
<text x="99.4" y="495.9" font-size="16.5" font-weight="bold" fill="#2b2b2b" textLength="100" lengthAdjust="spacingAndGlyphs">Daily Deaths</text>
<line x1="226.2" x2="247.3" y1="490.6" y2="490.6" stroke="#cccccc" stroke-width="2.4"/>
<circle cx="236.7" cy="490.6" r="4.8" fill="#cccccc"/>
<text x="254.8" y="495.9" font-size="16.5" font-weight="bold" fill="#cccccc" textLength="179.6" lengthAdjust="spacingAndGlyphs">3–day moving average</text>
<rect x="460.9" y="486.3" width="15.2" height="15.3" rx="2.1" ry="2.1" fill="#fff" stroke="#828190" stroke-width="1.8"/>
<line x1="487" x2="508.6" y1="490.6" y2="490.6" stroke="#cccccc" stroke-width="2.4"/>
<path d="M497.7 485.7 L502.4 490.6 L497.7 495.5 L493 490.6 Z" fill="#cccccc"/>
<text x="516.2" y="495.9" font-size="16.5" font-weight="bold" fill="#cccccc" textLength="179.4" lengthAdjust="spacingAndGlyphs">7–day moving average</text>
<rect x="722.3" y="486.3" width="15.2" height="15.3" rx="2.1" ry="2.1" fill="#fff" stroke="#828190" stroke-width="1.8"/>
</g>
</svg>
</body></html>
